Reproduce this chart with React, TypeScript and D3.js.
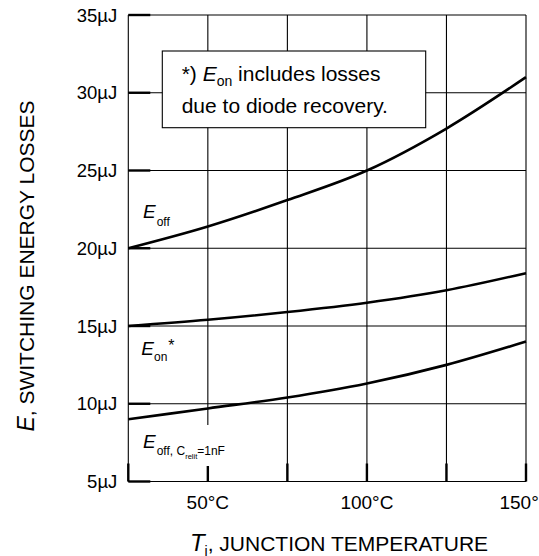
import React, { useRef, useEffect } from 'react';
import * as d3 from 'd3';

// values (junction temperature in °C, energy in µJ)
const temps = [25, 50, 75, 100, 125, 150];
const eOff = [20, 21.4, 23.1, 25.0, 27.7, 31.0];
const eOn = [15, 15.4, 15.9, 16.5, 17.3, 18.4];
const eOff1nF = [9.0, 9.7, 10.4, 11.3, 12.5, 14.0];

const xTicks = [25, 50, 75, 100, 125, 150];
const xTickLabels = ['', '50°C', '', '100°C', '', '150°C'];
const yTicks = [5, 10, 15, 20, 25, 30, 35];
const yTickLabels = ['5µJ', '10µJ', '15µJ', '20µJ', '25µJ', '30µJ', '35µJ'];

const FONT = '"Liberation Sans", Arial, Helvetica, sans-serif';

const Chart: React.FC<{ width?: number; height?: number }> = ({ width = 539, height = 556 }) => {
  const ref = useRef<SVGSVGElement | null>(null);

  useEffect(() => {
    const svg = d3.select(ref.current);
    svg.selectAll('*').remove();

    const x = d3.scaleLinear().domain([25, 150]).range([128.3, 526]);
    const y = d3.scaleLinear().domain([5, 35]).range([481.5, 15]);

    svg.attr('width', width).attr('height', height).style('font-family', FONT);
    svg.append('rect').attr('width', width).attr('height', height).attr('fill', '#fff');

    const grid = svg.append('g').attr('stroke', '#000').attr('stroke-width', 1.1);
    xTicks.forEach((t) => {
      grid.append('line')
        .attr('x1', x(t)).attr('x2', x(t))
        .attr('y1', y(5)).attr('y2', y(35));
    });
    yTicks.forEach((t) => {
      grid.append('line')
        .attr('x1', x(25)).attr('x2', x(150))
        .attr('y1', y(t)).attr('y2', y(t));
    });

    // heavier tick marks inside the frame
    const ticks = svg.append('g').attr('stroke', '#000').attr('stroke-width', 2.4);
    yTicks.forEach((t) => {
      ticks.append('line')
        .attr('x1', x(25)).attr('x2', x(25) + 22)
        .attr('y1', y(t)).attr('y2', y(t));
    });
    xTicks.forEach((t) => {
      ticks.append('line')
        .attr('x1', x(t)).attr('x2', x(t))
        .attr('y1', y(5)).attr('y2', y(5) - 18);
    });

    // tick labels
    yTicks.forEach((t, i) => {
      svg.append('text')
        .attr('x', x(25) - 11)
        .attr('y', y(t))
        .attr('dy', '0.36em')
        .attr('text-anchor', 'end')
        .style('font-size', '18.5px')
        .text(yTickLabels[i]);
    });
    xTicks.forEach((t, i) => {
      if (!xTickLabels[i]) return;
      svg.append('text')
        .attr('x', x(t))
        .attr('y', 509)
        .attr('text-anchor', 'middle')
        .style('font-size', '19px')
        .text(xTickLabels[i]);
    });

    // note box
    svg.append('rect')
      .attr('x', 162.3).attr('y', 51)
      .attr('width', 263.4).attr('height', 76.7)
      .attr('fill', '#fff').attr('stroke', '#000').attr('stroke-width', 1.1);
    const note = svg.append('text').attr('x', 181.7).attr('y', 81).style('font-size', '21px');
    note.append('tspan').text('*) ');
    note.append('tspan').style('font-style', 'italic').text('E');
    note.append('tspan').attr('dy', 5).style('font-size', '14px').text('on');
    note.append('tspan').attr('dy', -5).text(' includes losses');
    svg.append('text').attr('x', 181.7).attr('y', 113).style('font-size', '21px')
      .text('due to diode recovery.');

    // curves
    const line = d3.line<number>()
      .x((_, i) => x(temps[i]))
      .y((d) => y(d))
      .curve(d3.curveMonotoneX);
    [eOff, eOn, eOff1nF].forEach((s) => {
      svg.append('path')
        .attr('d', line(s)!)
        .attr('fill', 'none')
        .attr('stroke', '#000')
        .attr('stroke-width', 2.6);
    });

    // curve labels
    const lOff = svg.append('text').attr('x', 143).attr('y', 218.3).style('font-size', '19px');
    lOff.append('tspan').style('font-style', 'italic').text('E');
    lOff.append('tspan').attr('dy', 8).attr('dx', 1).style('font-size', '12px').text('off');

    const lOn = svg.append('text').attr('x', 141.3).attr('y', 355).style('font-size', '19px');
    lOn.append('tspan').style('font-style', 'italic').text('E');
    lOn.append('tspan').attr('dy', 6).style('font-size', '12px').text('on');
    lOn.append('tspan').attr('dy', -10).attr('dx', 1).style('font-size', '16px').text('*');

    svg.append('rect')
      .attr('x', 138).attr('y', 425)
      .attr('width', 76).attr('height', 41)
      .attr('fill', '#fff');
    const lC = svg.append('text').attr('x', 143).attr('y', 448.3).style('font-size', '19px');
    lC.append('tspan').style('font-style', 'italic').text('E');
    lC.append('tspan').attr('dy', 7).attr('dx', 1).style('font-size', '12px').text('off, C');
    lC.append('tspan').attr('dy', 4).style('font-size', '7.5px').text('relit');
    lC.append('tspan').attr('dy', -4).style('font-size', '12px').text('=1nF');

    // axis titles
    const yt = svg.append('text')
      .attr('transform', `translate(33.5, 266) rotate(-90)`)
      .attr('text-anchor', 'middle')
      .style('font-size', '21px');
    yt.append('tspan').style('font-style', 'italic').style('font-size', '23px').text('E');
    yt.append('tspan').text(', SWITCHING ENERGY LOSSES');

    const xt = svg.append('text')
      .attr('x', 339).attr('y', 551)
      .attr('text-anchor', 'middle')
      .style('font-size', '21px');
    xt.append('tspan').style('font-style', 'italic').style('font-size', '24px').text('T');
    xt.append('tspan').attr('dy', 5).style('font-size', '14px').text('j');
    xt.append('tspan').attr('dy', -5).text(', JUNCTION TEMPERATURE');
  }, [width, height]);

  return <svg ref={ref} style={{ display: 'block' }} />;
};

export default function App() {
  useEffect(() => {
    document.body.style.margin = '0';
  }, []);
  return <Chart />;
}
